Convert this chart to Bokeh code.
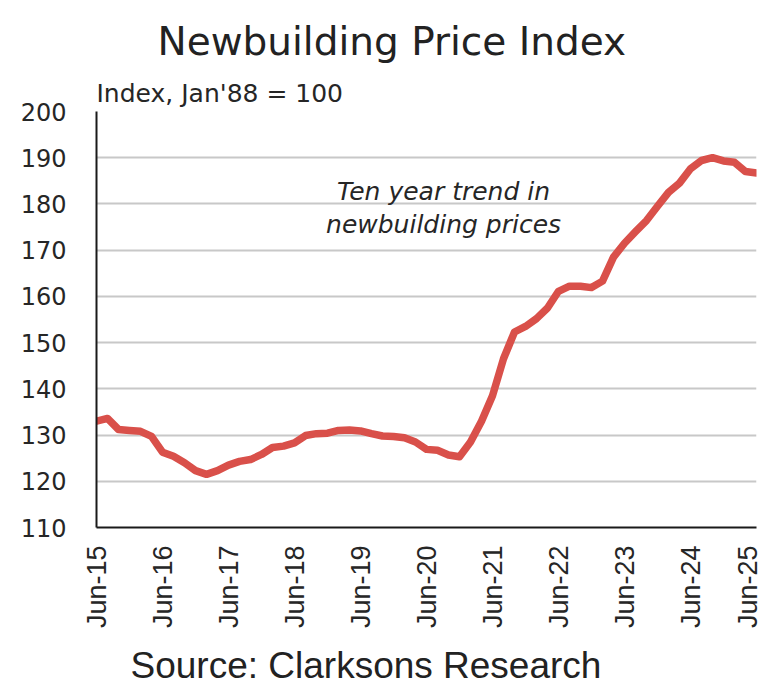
import math
from bokeh.plotting import figure
from bokeh.models import Label, ColumnDataSource, Range1d, FixedTicker, Title
from bokeh.embed import file_html
from bokeh.resources import INLINE

# months since Jun-15
months = [0, 2, 4, 6, 8, 10, 12, 14, 16, 18, 20, 22, 24, 26, 28, 30, 32, 34, 36, 38,
          40, 42, 44, 46, 48, 50, 52, 54, 56, 58, 60, 62, 64, 66, 68, 70, 72, 74, 76, 78,
          80, 82, 84, 86, 88, 90, 92, 94, 96, 98, 100, 102, 104, 106, 108, 110, 112, 114,
          116, 118, 120]
index_values = [133.0, 133.6, 131.2, 131.0, 130.8, 129.7, 126.3, 125.4, 124.0, 122.3,
                121.5, 122.3, 123.5, 124.3, 124.7, 125.8, 127.3, 127.6, 128.3, 129.9,
                130.3, 130.4, 131.0, 131.1, 130.9, 130.3, 129.8, 129.7, 129.4, 128.5,
                126.9, 126.7, 125.7, 125.3, 128.5, 133.0, 138.5, 146.5, 152.3, 153.5,
                155.2, 157.5, 161.1, 162.2, 162.2, 161.9, 163.3, 168.5, 171.5, 174.0,
                176.4, 179.5, 182.5, 184.5, 187.6, 189.4, 190.0, 189.3, 189.0, 187.0,
                186.7]
x_ticks = [0, 12, 24, 36, 48, 60, 72, 84, 96, 108, 120]
x_tick_labels = ["Jun-15", "Jun-16", "Jun-17", "Jun-18", "Jun-19", "Jun-20",
                 "Jun-21", "Jun-22", "Jun-23", "Jun-24", "Jun-25"]
y_ticks = [110, 120, 130, 140, 150, 160, 170, 180, 190, 200]

title_text = "Newbuilding Price Index"
unit_text = "Index, Jan'88 = 100"
note_lines = ["Ten year trend in", "newbuilding prices"]
source_text = "Source: Clarksons Research"

GOTHIC = "DejaVu Sans"
W, H = 762, 697
p = figure(width=W, height=H, output_backend="svg", toolbar_location=None,
           title=None,
           x_range=Range1d(0, 120), y_range=Range1d(110, 200),
           min_border_left=96, min_border_right=6, min_border_top=111,
           min_border_bottom=167)
p.background_fill_color = "white"
p.border_fill_color = "white"
p.outline_line_color = None

src = ColumnDataSource(dict(x=months, y=index_values))
p.line("x", "y", source=src, line_color="#d9504a", line_width=7.5, line_join="round",
       line_cap="round")

p.xgrid.grid_line_color = None
p.ygrid.grid_line_color = "#c8c8c8"
p.ygrid.grid_line_width = 2
p.ygrid.ticker = FixedTicker(ticks=y_ticks)

p.yaxis.ticker = FixedTicker(ticks=y_ticks)
p.xaxis.ticker = FixedTicker(ticks=x_ticks)
p.xaxis.major_label_overrides = {t: l for t, l in zip(x_ticks, x_tick_labels)}
p.xaxis.major_label_orientation = math.pi / 2

for ax in (p.xaxis, p.yaxis):
    ax.axis_line_color = "#1a1a1a"
    ax.axis_line_width = 2
    ax.major_tick_line_color = None
    ax.minor_tick_line_color = None
    ax.major_label_text_color = "#262626"

p.yaxis.major_label_text_font = GOTHIC
p.yaxis.major_label_text_font_size = "24px"
p.yaxis.major_label_standoff = 24
p.xaxis.major_label_text_font = "Liberation Sans"
p.xaxis.major_label_text_font_size = "27px"
p.xaxis.major_label_standoff = 12

unit_title = Title(text=unit_text, align="left", offset=0, standoff=7,
                   text_font=GOTHIC, text_font_size="25px",
                   text_font_style="normal", text_color="#262626")
main_title = Title(text=title_text, align="left", offset=61, standoff=20,
                   text_font=GOTHIC, text_font_size="39px",
                   text_font_style="normal", text_color="#222222")
p.add_layout(unit_title, "above")
p.add_layout(main_title, "above")

source_title = Title(text=source_text, align="left", offset=34, standoff=23,
                     text_font="Liberation Sans", text_font_size="37px",
                     text_font_style="normal", text_color="#222222")
p.add_layout(source_title, "below")

p.add_layout(Label(x=63.1, y=182.8, text=note_lines[0], text_align="center",
                   text_baseline="middle", text_font=GOTHIC,
                   text_font_style="italic", text_font_size="25px",
                   text_color="#262626"))
p.add_layout(Label(x=63.1, y=175.5, text=note_lines[1], text_align="center",
                   text_baseline="middle", text_font=GOTHIC,
                   text_font_style="italic", text_font_size="25px",
                   text_color="#262626"))

open("out.html", "w").write(file_html(p, INLINE))
